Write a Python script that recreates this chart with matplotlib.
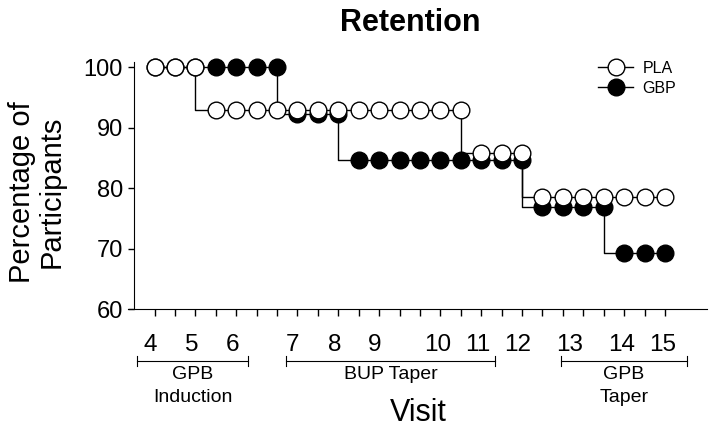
import numpy as np
import matplotlib
matplotlib.use("Agg")
import matplotlib.pyplot as plt
import matplotlib.transforms as mtransforms

plt.rcParams['font.family'] = ['Liberation Sans', 'DejaVu Sans']

# Data (one point per assessment, 26 in all)
pla_pct = [100, 100, 100, 92.86, 92.86, 92.86, 92.86, 92.86, 92.86, 92.86,
           92.86, 92.86, 92.86, 92.86, 92.86, 92.86, 85.71, 85.71, 85.71,
           78.57, 78.57, 78.57, 78.57, 78.57, 78.57, 78.57]
gbp_pct = [100, 100, 100, 100, 100, 100, 100, 92.31, 92.31, 92.31,
           84.62, 84.62, 84.62, 84.62, 84.62, 84.62, 84.62, 84.62, 84.62,
           76.92, 76.92, 76.92, 76.92, 69.23, 69.23, 69.23]

visit_labels = ['4', '5', '6', '7', '8', '9', '10', '11', '12', '13', '14', '15']
visit_pos = [-0.2, 1.8, 3.8, 6.75, 8.8, 10.8, 13.85, 15.85, 17.8, 20.35, 22.9, 24.9]

phase_names = ['GPB\nInduction', 'BUP Taper', 'GPB\nTaper']
phase_start = [-0.86, 6.45, 19.9]
phase_end = [4.58, 16.7, 26.1]

x = np.arange(len(pla_pct))

fig = plt.figure(figsize=(7.14, 4.34), dpi=100)
ax = fig.add_axes([128 / 714, 125 / 434, 579 / 714, 247 / 434])

ax.plot(x, gbp_pct, drawstyle='steps-pre', color='k', lw=1, marker='o', ms=12,
        mfc='k', mec='k', mew=1, clip_on=False, zorder=3, label='GBP')
ax.plot(x, pla_pct, drawstyle='steps-pre', color='k', lw=1, marker='o', ms=12,
        mfc='white', mec='k', mew=1, clip_on=False, zorder=4, label='PLA')

ax.set_xlim(-1.3, 27.06)
ax.set_ylim(60, 100.83)
ax.set_yticks([60, 70, 80, 90, 100])
ax.tick_params(axis='y', labelsize=17, length=4, width=1, direction='out', pad=4)

ax.set_xticks(x)
ax.set_xticklabels([])
ax.tick_params(axis='x', which='major', length=5, width=1, direction='out')
ax.set_xticks(visit_pos, visit_labels, minor=True)
ax.tick_params(axis='x', which='minor', length=0, labelsize=17.5, pad=18)

ax.spines['top'].set_visible(False)
ax.spines['right'].set_visible(False)
ax.spines['left'].set_position(('data', -1.0))
ax.spines['left'].set_bounds(60, 100.83)

# phase brackets under the visit labels
trans = mtransforms.blended_transform_factory(ax.transData, fig.transFigure)
yb = 1 - 361 / 434
tk = 5 / 434
for name, s, e in zip(phase_names, phase_start, phase_end):
    ax.plot([s, e], [yb, yb], color='k', lw=0.8, transform=trans, clip_on=False)
    ax.plot([s, s], [yb - tk, yb + tk], color='k', lw=0.8, transform=trans, clip_on=False)
    ax.plot([e, e], [yb - tk, yb + tk], color='k', lw=0.8, transform=trans, clip_on=False)
    ax.text((s + e) / 2, yb - 5 / 434, name, transform=trans, ha='center', va='top',
            fontsize=14, linespacing=1.45)

fig.text(418 / 714, 1 - 413 / 434, 'Visit', ha='center', va='center', fontsize=22)
fig.text(37 / 714, 1 - 192 / 434, 'Percentage of\nParticipants', rotation=90,
         ha='center', va='center', fontsize=21, linespacing=1.05)
fig.text(410 / 714, 1 - 23 / 434, 'Retention', ha='center', va='center',
         fontsize=22, fontweight='bold')

handles, labels = ax.get_legend_handles_labels()
ax.legend(handles[::-1], labels[::-1], loc='upper left', bbox_to_anchor=(598 / 714, 1 - 61 / 434),
          bbox_transform=fig.transFigure, frameon=False, fontsize=11.5,
          handlelength=2.2, labelspacing=0.3, handletextpad=0.6, borderpad=0, borderaxespad=0)

fig.savefig('out.png', dpi=100)
